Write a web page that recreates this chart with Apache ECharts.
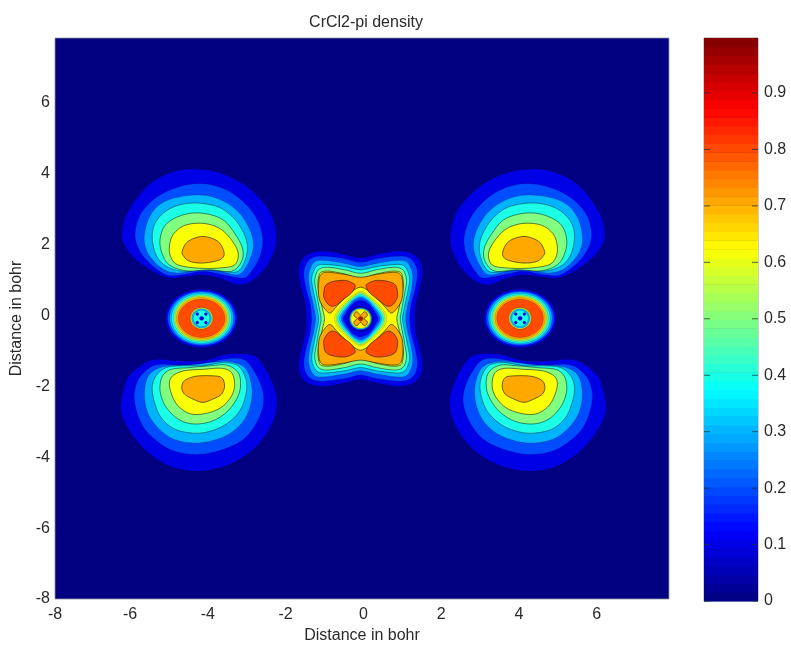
<!DOCTYPE html>
<html><head><meta charset="utf-8">
<script src="https://cdn.jsdelivr.net/npm/echarts@6/dist/echarts.min.js"></script>
<style>html,body{margin:0;padding:0;background:#fff}#c{width:791px;height:649px;filter:blur(0.55px)}</style>
</head><body><div id="c"></div>
<script>
// Tick labels
const xTicks = [-7.93,-6,-4,-2,0,2,4,6];
const yTicks = [-8,-6,-4,-2,0,2,4,6];
const colorTicks = [0,0.1,0.2,0.3,0.4,0.5,0.6,0.7,0.8,0.9];
// Density value of each contour band
const bandValues = [0,0.1,0.2,0.3,0.4,0.5,0.62,0.71,0.8,0.9];
// Colour bar steps (64 entries of the colormap, by index)
const colorSteps = [0,1,2,3,4,5,6,7,8,9,10,11,12,13,14,15,16,17,18,19,20,21,22,23,24,25,26,27,28,29,30,31,32,33,34,35,36,37,38,39,40,41,42,43,44,45,46,47,48,49,50,51,52,53,54,55,56,57,58,59,60,61,62,63];

// Contours, in bohr. Upper left lobe, band 1..7
const upperLobe = [
 [[-6.21,2.27],[-6.11,2.79],[-5.80,3.35],[-5.42,3.77],[-4.90,4.05],[-4.38,4.13],[-3.78,4.05],[-3.18,3.77],[-2.75,3.40],[-2.40,2.93],[-2.25,2.37],[-2.27,1.90],[-2.49,1.39],[-2.83,1.01],[-3.22,0.87],[-3.70,1.06],[-4.13,1.15],[-4.56,1.10],[-4.99,1.06],[-5.42,1.25],[-5.89,1.62],[-6.12,1.95]],
 [[-5.87,2.27],[-5.76,2.79],[-5.46,3.21],[-5.07,3.49],[-4.56,3.68],[-4.04,3.71],[-3.52,3.54],[-3.09,3.21],[-2.75,2.74],[-2.59,2.18],[-2.66,1.67],[-2.88,1.25],[-3.09,1.06],[-3.61,1.15],[-4.13,1.25],[-4.64,1.15],[-5.07,1.15],[-5.50,1.48],[-5.76,1.85]],
 [[-5.63,2.27],[-5.52,2.74],[-5.25,3.12],[-4.81,3.33],[-4.21,3.40],[-3.70,3.28],[-3.22,2.93],[-2.92,2.42],[-2.83,1.95],[-2.96,1.48],[-3.22,1.15],[-3.70,1.25],[-4.21,1.29],[-4.73,1.20],[-5.12,1.29],[-5.46,1.62],[-5.61,1.95]],
 [[-5.43,2.23],[-5.33,2.65],[-5.03,2.98],[-4.60,3.15],[-4.13,3.16],[-3.65,3.02],[-3.26,2.65],[-3.01,2.13],[-3.01,1.67],[-3.22,1.25],[-3.61,1.25],[-4.13,1.31],[-4.64,1.25],[-5.07,1.39],[-5.33,1.71]],
 [[-5.23,2.13],[-5.12,2.51],[-4.86,2.74],[-4.47,2.88],[-4.04,2.87],[-3.61,2.70],[-3.31,2.32],[-3.11,1.90],[-3.13,1.53],[-3.39,1.25],[-3.95,1.29],[-4.56,1.26],[-4.99,1.43],[-5.18,1.76]],
 [[-4.99,1.90],[-4.90,2.27],[-4.60,2.54],[-4.13,2.60],[-3.70,2.46],[-3.39,2.13],[-3.22,1.76],[-3.31,1.43],[-3.70,1.34],[-4.30,1.34],[-4.77,1.43],[-4.94,1.62]],
 [[-4.66,1.81],[-4.51,2.09],[-4.13,2.23],[-3.74,2.09],[-3.58,1.76],[-3.70,1.57],[-4.13,1.48],[-4.47,1.53],[-4.62,1.67]]
];
// Lower left lobe, band 1..7
const lowerLobe = [
 [[-6.17,-2.92],[-6.24,-2.55],[-6.15,-2.03],[-6.02,-1.70],[-5.68,-1.38],[-5.33,-1.24],[-4.81,-1.28],[-4.13,-1.28],[-3.52,-1.10],[-2.92,-1.10],[-2.66,-1.28],[-2.40,-1.75],[-2.23,-2.31],[-2.27,-2.83],[-2.49,-3.34],[-2.92,-3.86],[-3.52,-4.23],[-4.21,-4.39],[-4.90,-4.28],[-5.50,-3.90],[-5.93,-3.39]],
 [[-5.89,-2.36],[-5.80,-1.84],[-5.55,-1.52],[-5.25,-1.38],[-4.73,-1.40],[-4.13,-1.38],[-3.61,-1.24],[-3.09,-1.24],[-2.79,-1.61],[-2.59,-2.13],[-2.59,-2.59],[-2.79,-3.11],[-3.13,-3.53],[-3.70,-3.81],[-4.30,-3.92],[-4.90,-3.81],[-5.42,-3.44],[-5.72,-3.02]],
 [[-5.63,-2.22],[-5.55,-1.75],[-5.33,-1.52],[-4.99,-1.42],[-4.47,-1.40],[-3.95,-1.33],[-3.44,-1.30],[-3.05,-1.47],[-2.88,-1.94],[-2.88,-2.41],[-3.05,-2.92],[-3.39,-3.30],[-3.87,-3.53],[-4.38,-3.60],[-4.90,-3.48],[-5.29,-3.16],[-5.55,-2.73]],
 [[-5.43,-2.03],[-5.33,-1.70],[-5.07,-1.47],[-4.64,-1.42],[-4.13,-1.42],[-3.61,-1.33],[-3.22,-1.42],[-3.02,-1.80],[-3.02,-2.22],[-3.18,-2.69],[-3.52,-3.06],[-3.95,-3.27],[-4.38,-3.32],[-4.86,-3.20],[-5.20,-2.88],[-5.37,-2.45]],
 [[-5.23,-1.99],[-5.16,-1.70],[-4.94,-1.52],[-4.47,-1.47],[-3.95,-1.42],[-3.52,-1.40],[-3.22,-1.61],[-3.16,-1.99],[-3.26,-2.36],[-3.52,-2.73],[-3.91,-2.99],[-4.38,-3.06],[-4.77,-2.92],[-5.07,-2.59],[-5.20,-2.27]],
 [[-4.99,-1.94],[-4.90,-1.70],[-4.60,-1.56],[-4.13,-1.52],[-3.65,-1.49],[-3.39,-1.61],[-3.31,-1.94],[-3.39,-2.27],[-3.65,-2.59],[-4.04,-2.76],[-4.43,-2.78],[-4.73,-2.59],[-4.90,-2.31]],
 [[-4.67,-2.03],[-4.60,-1.84],[-4.34,-1.72],[-3.95,-1.70],[-3.65,-1.75],[-3.57,-1.99],[-3.65,-2.22],[-3.87,-2.36],[-4.13,-2.45],[-4.38,-2.36],[-4.60,-2.22]]
];
// Central Cr region: one quadrant [distance left, distance up] of the centre, band 1..6
const crCentre = [-0.07,-0.09];
const crOuter = [
 [[0,1.71],[0.41,1.81],[0.89,1.90],[1.23,1.87],[1.49,1.69],[1.59,1.36],[1.53,0.89],[1.42,0.42],[1.39,0]],
 [[0,1.59],[0.41,1.69],[0.89,1.76],[1.21,1.73],[1.39,1.56],[1.46,1.26],[1.40,0.84],[1.30,0.42],[1.26,0]],
 [[0,1.47],[0.41,1.56],[0.89,1.64],[1.16,1.62],[1.29,1.43],[1.34,1.17],[1.30,0.80],[1.21,0.37],[1.16,0]],
 [[0,1.38],[0.41,1.47],[0.89,1.53],[1.10,1.50],[1.21,1.34],[1.26,1.10],[1.21,0.75],[1.13,0.33],[1.08,0]],
 [[0,1.28],[0.41,1.38],[0.84,1.45],[1.06,1.40],[1.15,1.25],[1.18,1.03],[1.13,0.70],[1.06,0.28],[1.02,0]],
 [[0,1.14],[0.41,1.26],[0.80,1.34],[1.02,1.31],[1.08,1.17],[1.10,0.94],[1.06,0.66],[0.97,0.23],[0.93,0]]
];
// Orange band above / below the centre: half outline, band 7
const crOrangeHalf = [[0,1.17],[0.41,1.25],[0.84,1.31],[1.02,1.25],[1.08,1.03],[1.08,0.66],[1.00,0.40],[0.80,0.16],[0.63,0.33],[0.33,0.66],[0,0.89]];
// Red blob in a quadrant, band 8
const crRedBlob = [[0.95,0.70],[0.90,0.94],[0.71,1.05],[0.41,1.08],[0.20,1.00],[0.14,0.91],[0.24,0.72],[0.46,0.53],[0.67,0.36],[0.82,0.39],[0.93,0.56]];
// Diamond-shaped hole, descending bands 6..1
const crDiamond = [
 [6,[[0,0.77],[0.19,0.66],[0.41,0.46],[0.60,0.22],[0.67,0]]],
 [5,[[0,0.74],[0.18,0.63],[0.39,0.43],[0.57,0.20],[0.63,0]]],
 [4,[[0,0.69],[0.18,0.59],[0.36,0.40],[0.52,0.19],[0.59,0]]],
 [3,[[0,0.65],[0.18,0.55],[0.34,0.37],[0.49,0.17],[0.55,0]]],
 [2,[[0,0.60],[0.18,0.51],[0.32,0.34],[0.45,0.15],[0.50,0]]],
 [1,[[0,0.52],[0.17,0.45],[0.30,0.30],[0.40,0.13],[0.45,0]]]
];
// Rings round the Cr nucleus: [band, rx, ry]
const crRings = [[0,0.33,0.36],[1,0.31,0.335],[2,0.29,0.315],[3,0.28,0.30],[4,0.27,0.29],[5,0.26,0.28],[6,0.25,0.27]];
const crClover = [[0,0.10],[0.08,0.19],[0.15,0.17],[0.17,0.08],[0.09,0]];
const crCore = [[8,0.06,0.06],[9,0.03,0.03]];
// Cl nuclei
const clCentresX = [-4.16,4.03];
const clCentreY = -0.08;
const clRings = [[1,0.92,0.82],[2,0.87,0.77],[3,0.82,0.74],[4,0.77,0.70],[5,0.72,0.66],[6,0.68,0.62],[7,0.65,0.59],[8,0.60,0.54],[7,0.30,0.31],[6,0.28,0.30],[3,0.26,0.28],[4,0.21,0.23],[1,0.06,0.06]];
const clDots = [[0.11,0.12],[-0.11,0.12],[0.11,-0.12],[-0.11,-0.12]];

function jet(v){
  const c=t=>Math.round(255*Math.max(0,Math.min(1,t)));
  return 'rgb('+c(1.5-Math.abs(4*v-3))+','+c(1.5-Math.abs(4*v-2))+','+c(1.5-Math.abs(4*v-1))+')';
}
function full4(q,c){
  const p=[];
  q.forEach(a=>p.push([c[0]-a[0],c[1]+a[1]]));
  q.slice(0,-1).reverse().forEach(a=>p.push([c[0]-a[0],c[1]-a[1]]));
  q.slice(1).forEach(a=>p.push([c[0]+a[0],c[1]-a[1]]));
  q.slice(1,-1).reverse().forEach(a=>p.push([c[0]+a[0],c[1]+a[1]]));
  return p;
}
// Rounds a closed outline that has already been put through the axes
function rounded(p){
  const n=p.length,out=[];
  for(let i=0;i<n;i++){
    const a=p[(i+n-1)%n],b=p[i],c=p[(i+1)%n],d=p[(i+2)%n];
    for(let k=0;k<6;k++){
      const t=k/6,t2=t*t,t3=t2*t;
      out.push([0,1].map(j=>0.5*(2*b[j]+(c[j]-a[j])*t+(2*a[j]-5*b[j]+4*c[j]-d[j])*t2+(3*b[j]-a[j]-3*c[j]+d[j])*t3)));
    }
  }
  return out;
}
const items=[];
const poly=(band,pts,faint)=>items.push({kind:'p',band,pts,faint});
const ell=(band,cx,cy,rx,ry,faint)=>items.push({kind:'e',band,cx,cy,rx,ry,faint});
[upperLobe,lowerLobe].forEach(lobe=>lobe.forEach((pts,i)=>{
  poly(i+1,pts);
  poly(i+1,pts.map(a=>[-a[0],a[1]]));
}));
crOuter.forEach((q,i)=>poly(i+1,full4(q,crCentre)));
[1,-1].forEach(s=>{
  const h=crOrangeHalf;
  const pts=h.map(a=>[crCentre[0]-a[0],crCentre[1]+s*a[1]]).concat(h.slice(1,-1).reverse().map(a=>[crCentre[0]+a[0],crCentre[1]+s*a[1]]));
  poly(7,pts);
});
[[1,1],[-1,1],[1,-1],[-1,-1]].forEach(s=>poly(8,crRedBlob.map(a=>[crCentre[0]+s[0]*a[0],crCentre[1]+s[1]*a[1]])));
crDiamond.forEach(d=>poly(d[0],full4(d[1],crCentre),true));
crRings.forEach(r=>ell(r[0],crCentre[0],crCentre[1],r[1],r[2],true));
poly(7,full4(crClover,crCentre));
crCore.forEach(r=>ell(r[0],crCentre[0],crCentre[1],r[1],r[2]));
clCentresX.forEach(cx=>{
  clRings.forEach(r=>ell(r[0],cx,clCentreY,r[1],r[2],true));
  clDots.forEach(d=>ell(1,cx+d[0],clCentreY+d[1],0.04,0.045));
});

const lineOpacity=[0,0.08,0.15,0.25,0.5,0.6,0.65,0.7,0.65,0.5];
function renderContour(params,api){
  const it=items[api.value(0)];
  const op=lineOpacity[it.band]*(it.faint?0.55:1);
  const style={fill:jet(bandValues[it.band]),stroke:'rgba(0,0,20,'+op+')',lineWidth:it.faint?0.5:0.8};
  if(it.kind==='p'){
    return {type:'polygon',shape:{points:rounded(it.pts.map(a=>api.coord(a)))},style};
  }
  const c=api.coord([it.cx,it.cy]);const s=api.size([it.rx,it.ry]);
  return {type:'ellipse',shape:{cx:c[0],cy:c[1],rx:s[0],ry:s[1]},style};
}
function renderStep(params,api){
  const i=api.value(0);
  const a=api.coord([0,i/64*0.9975]),b=api.coord([1,(i+1)/64*0.9975]);
  return {type:'rect',shape:{x:a[0],y:b[1],width:b[0]-a[0],height:a[1]-b[1]+0.5},style:{fill:jet((i+0.5)/64)}};
}
// Inward tick marks on both sides of the colour bar
function renderBarTick(params,api){
  const l=api.coord([0,api.value(0)]),r=api.coord([1,api.value(0)]);
  const st={stroke:'rgba(30,50,60,0.75)',lineWidth:1};
  return {type:'group',children:[
    {type:'line',shape:{x1:l[0],y1:l[1],x2:l[0]+6,y2:l[1]},style:st},
    {type:'line',shape:{x1:r[0]-6,y1:r[1],x2:r[0],y2:r[1]},style:st}
  ]};
}
const font='"Liberation Sans",Arial,sans-serif';
const tickLabel={fontFamily:font,fontSize:16,color:'#2a2a2a'};
const chart=echarts.init(document.getElementById('c'),null,{renderer:'canvas'});
chart.setOption({
  animation:false,backgroundColor:'#fff',
  title:{text:'CrCl2-pi density',left:361,top:10,textAlign:'center',textStyle:{fontFamily:font,fontSize:16,fontWeight:'normal',color:'#2a2a2a'}},
  grid:[
    {left:55,top:38,width:614,height:563,show:true,backgroundColor:jet(0),borderColor:'#9090a0',borderWidth:0.8},
    {left:704,top:38,width:54,height:563,show:true,backgroundColor:jet(0),borderColor:'#808080',borderWidth:0.8}
  ],
  xAxis:[
    {gridIndex:0,type:'value',min:-7.93,max:7.86,
     name:'Distance in bohr',nameLocation:'middle',nameGap:29,nameTextStyle:{...tickLabel},
     axisLine:{show:false},axisTick:{show:false},splitLine:{show:false},
     axisLabel:{...tickLabel,margin:8,customValues:xTicks,formatter:v=>String(Math.round(v))}},
    {gridIndex:1,type:'value',min:0,max:1,axisLine:{show:false},axisTick:{show:false},axisLabel:{show:false},splitLine:{show:false}}
  ],
  yAxis:[
    {gridIndex:0,type:'value',min:-8,max:7.83,
     name:'Distance in bohr',nameLocation:'middle',nameGap:29,nameTextStyle:{...tickLabel},
     axisLine:{show:false},axisTick:{show:false},splitLine:{show:false},
     axisLabel:{...tickLabel,margin:5,customValues:yTicks}},
    {gridIndex:1,type:'value',min:0,max:0.9975,position:'right',
     axisLine:{show:false},splitLine:{show:false},axisTick:{show:false},
     axisLabel:{...tickLabel,margin:6,customValues:colorTicks,formatter:v=>String(+v.toFixed(1))}}
  ],
  series:[
    {type:'custom',xAxisIndex:0,yAxisIndex:0,clip:true,silent:true,renderItem:renderContour,
     encode:{x:0,y:1},data:items.map((it,i)=>[i,it.band])},
    {type:'custom',xAxisIndex:1,yAxisIndex:1,silent:true,renderItem:renderStep,
     data:colorSteps.map(i=>[i])},
    {type:'custom',xAxisIndex:1,yAxisIndex:1,silent:true,z:5,renderItem:renderBarTick,
     encode:{y:0},data:colorTicks.map(v=>[v])}
  ]
});
</script></body></html>
